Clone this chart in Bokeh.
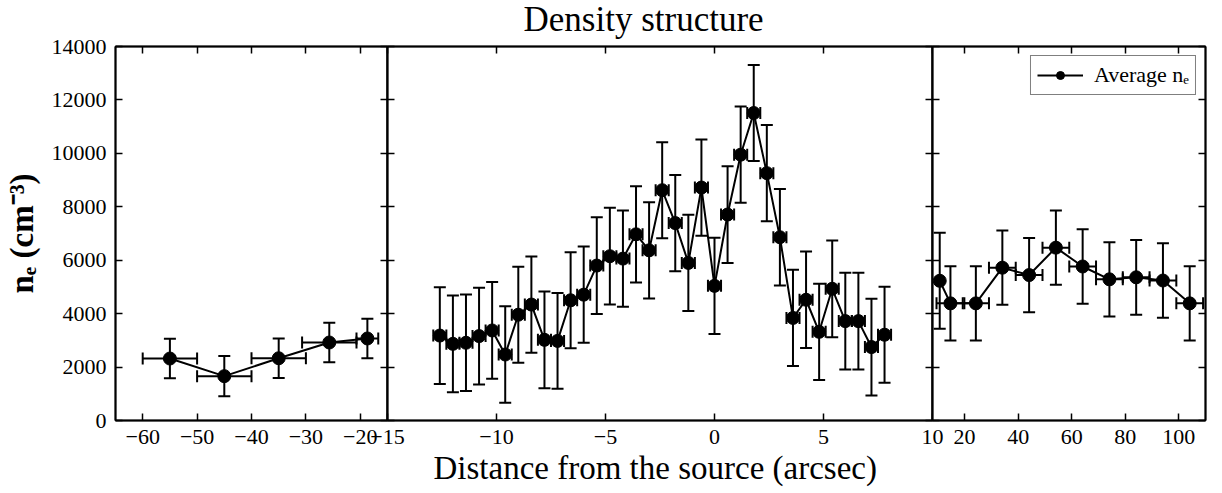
from bokeh.plotting import figure
from bokeh.models import (ColumnDataSource, Whisker, TeeHead, FixedTicker, LinearAxis,
                          CustomJSTickFormatter, Range1d, Legend, LegendItem, Title)
from bokeh.layouts import row
from bokeh.embed import file_html
from bokeh.resources import INLINE

# ---------------- data ----------------
outer_left_x = [-55.0, -45.0, -35.0, -25.7, -18.7]
outer_left_x_err = [5.0, 5.0, 5.0, 5.0, 2.0]
outer_left_ne = [2320, 1660, 2330, 2920, 3070]
outer_left_ne_err = [740, 750, 740, 740, 740]

inner_x = [-12.6, -12.0, -11.4, -10.8, -10.2, -9.6, -9.0, -8.4, -7.8, -7.2, -6.6, -6.0,
           -5.4, -4.8, -4.2, -3.6, -3.0, -2.4, -1.8, -1.2, -0.6, 0.0, 0.6, 1.2, 1.8,
           2.4, 3.0, 3.6, 4.2, 4.8, 5.4, 6.0, 6.6, 7.2, 7.8]
inner_x_err = [0.3, 0.3, 0.3, 0.3, 0.3, 0.3, 0.3, 0.3, 0.3, 0.3, 0.3, 0.3, 0.3, 0.3,
               0.3, 0.3, 0.3, 0.3, 0.3, 0.3, 0.3, 0.3, 0.3, 0.3, 0.3, 0.3, 0.3, 0.3,
               0.3, 0.3, 0.3, 0.3, 0.3, 0.3, 0.3]
inner_ne = [3180, 2870, 2910, 3160, 3370, 2470, 3960, 4340, 3020, 2980, 4500, 4710,
            5800, 6150, 6060, 6970, 6370, 8620, 7390, 5900, 8720, 5040, 7710, 9950,
            11510, 9260, 6860, 3840, 4520, 3320, 4930, 3720, 3720, 2750, 3210]
inner_ne_err = [1810, 1810, 1810, 1810, 1810, 1810, 1800, 1800, 1810, 1790, 1800, 1800,
                1810, 1810, 1800, 1800, 1800, 1800, 1800, 1800, 1800, 1800, 1810, 1800,
                1800, 1800, 1810, 1800, 1810, 1800, 1810, 1810, 1810, 1810, 1800]

outer_right_x = [10.7, 14.7, 24.2, 34.1, 44.1, 54.1, 64.1, 74.1, 84.1, 94.1, 104.1]
outer_right_x_err = [0.3, 5.2, 4.9, 5.0, 5.0, 5.0, 5.0, 5.0, 5.0, 5.0, 5.0]
outer_right_ne = [5230, 4385, 4385, 5720, 5445, 6470, 5765, 5285, 5360, 5240, 4385]
outer_right_ne_err = [1800, 1390, 1390, 1390, 1390, 1390, 1395, 1390, 1400, 1395, 1390]

y_ticks = [0, 2000, 4000, 6000, 8000, 10000, 12000, 14000]
left_ticks = [-60, -50, -40, -30, -20]
mid_ticks = [-15, -10, -5, 0, 5, 10]
right_ticks = [20, 40, 60, 80, 100]

title_text = "Density structure"
xlabel_text = "Distance from the source (arcsec)"
ylabel_text = "nₑ (cm⁻³)"
legend_text = "Average nₑ"

FONT = "Liberation Serif"
E = 24          # horizontal overlap border between panels
X = 26          # hidden extra space above the page top (room for the title)
H = 493
TOP = 46
BOTTOM = 73


def label_of(t):
    return ("\u2212" + str(abs(t))) if t < 0 else str(t)


def style_axis(ax, ticks, labels):
    ax.ticker = FixedTicker(ticks=ticks)
    ax.major_tick_in = 7
    ax.major_tick_out = 0
    ax.minor_tick_in = 0
    ax.minor_tick_out = 0
    ax.minor_tick_line_color = None
    ax.major_tick_line_color = "black"
    ax.major_tick_line_width = 1.5
    ax.axis_line_color = "black"
    ax.axis_line_width = 2
    if labels:
        ax.major_label_overrides = {t: label_of(t) for t in ticks}
        ax.major_label_text_font = FONT
        ax.major_label_text_font_size = "22px"
        ax.major_label_text_color = "black"
        ax.major_label_standoff = 9
    else:
        ax.formatter = CustomJSTickFormatter(code="return ''")
        ax.major_label_text_font_size = "0px"
        ax.major_label_standoff = 0


def make_fig(width, xr, bl, br, xticks, ylabels):
    p = figure(width=width, height=H + X, x_range=Range1d(*xr), y_range=Range1d(0, 14000),
               output_backend="svg", toolbar_location=None,
               min_border_left=bl, min_border_right=br,
               min_border_top=TOP + X, min_border_bottom=BOTTOM)
    p.border_fill_color = None
    p.background_fill_color = "white"
    p.outline_line_color = "black"
    p.outline_line_width = 1.5
    p.xgrid.visible = False
    p.ygrid.visible = False
    style_axis(p.xaxis[0], xticks, True)
    style_axis(p.yaxis[0], y_ticks, ylabels)
    top = LinearAxis()
    style_axis(top, xticks, False)
    p.add_layout(top, "above")
    right = LinearAxis()
    style_axis(right, y_ticks, False)
    p.add_layout(right, "right")
    return p


def draw(p, xs, xerr, ys, yerr):
    src = ColumnDataSource(dict(
        x=xs, y=ys,
        yl=[y - e for y, e in zip(ys, yerr)], yu=[y + e for y, e in zip(ys, yerr)],
        xl=[x - e for x, e in zip(xs, xerr)], xu=[x + e for x, e in zip(xs, xerr)]))
    p.add_layout(Whisker(source=src, base="x", lower="yl", upper="yu", dimension="height",
                         line_color="black", line_width=2, level="underlay",
                         upper_head=TeeHead(size=12, line_width=2, line_color="black"),
                         lower_head=TeeHead(size=12, line_width=2, line_color="black")))
    p.add_layout(Whisker(source=src, base="y", lower="xl", upper="xu", dimension="width",
                         line_color="black", line_width=2, level="underlay",
                         upper_head=TeeHead(size=12, line_width=2, line_color="black"),
                         lower_head=TeeHead(size=12, line_width=2, line_color="black")))
    ln = p.line("x", "y", source=src, line_color="black", line_width=2)
    sc = p.scatter("x", "y", source=src, size=13, fill_color="black", line_color="black")
    return ln, sc


# panels
p1 = make_fig(115 + 272 + E, (-65, -15), 115, E, left_ticks, True)
p2 = make_fig(E + 545 + E, (-15, 10), E, E, mid_ticks, False)
p3 = make_fig(E + 273 + 17, (8, 110), E, 17, right_ticks, False)
p1.margin = (-X, 0, 0, 0)
p2.margin = (-X, 0, 0, -2 * E)
p3.margin = (-X, 0, 0, -2 * E)

draw(p1, outer_left_x, outer_left_x_err, outer_left_ne, outer_left_ne_err)
draw(p2, inner_x, inner_x_err, inner_ne, inner_ne_err)
ln, sc = draw(p3, outer_right_x, outer_right_x_err, outer_right_ne, outer_right_ne_err)

# y label
p1.yaxis[0].axis_label = ylabel_text
p1.yaxis[0].axis_label_text_font = FONT
p1.yaxis[0].axis_label_text_font_size = "33px"
p1.yaxis[0].axis_label_text_font_style = "bold"
p1.yaxis[0].axis_label_text_color = "black"
p1.yaxis[0].axis_label_standoff = 9

# title
p2.title.text = title_text
p2.title.text_font = FONT
p2.title.text_font_size = "35px"
p2.title.text_font_style = "normal"
p2.title.text_color = "black"
p2.title.align = "left"
p2.title.offset = 136
p2.title.standoff = 15

# x label as a title below the middle panel
xl = Title(text=xlabel_text, align="left", offset=46, text_font=FONT,
           text_font_size="33px", text_font_style="normal", text_color="black",
           standoff=2)
p2.add_layout(xl, "below")

# legend
leg = Legend(items=[LegendItem(label=legend_text, renderers=[ln, sc])],
             location="top_right")
leg.border_line_color = "black"
leg.border_line_width = 1.5
leg.background_fill_color = "white"
leg.background_fill_alpha = 1
leg.label_text_font = FONT
leg.label_text_font_size = "22px"
leg.label_text_color = "black"
leg.glyph_width = 46
leg.glyph_height = 20
leg.label_standoff = 11
leg.padding = 6
leg.margin = 9
p3.add_layout(leg)

layout = row(p1, p2, p3)
open("out.html", "w").write(file_html(layout, INLINE))
